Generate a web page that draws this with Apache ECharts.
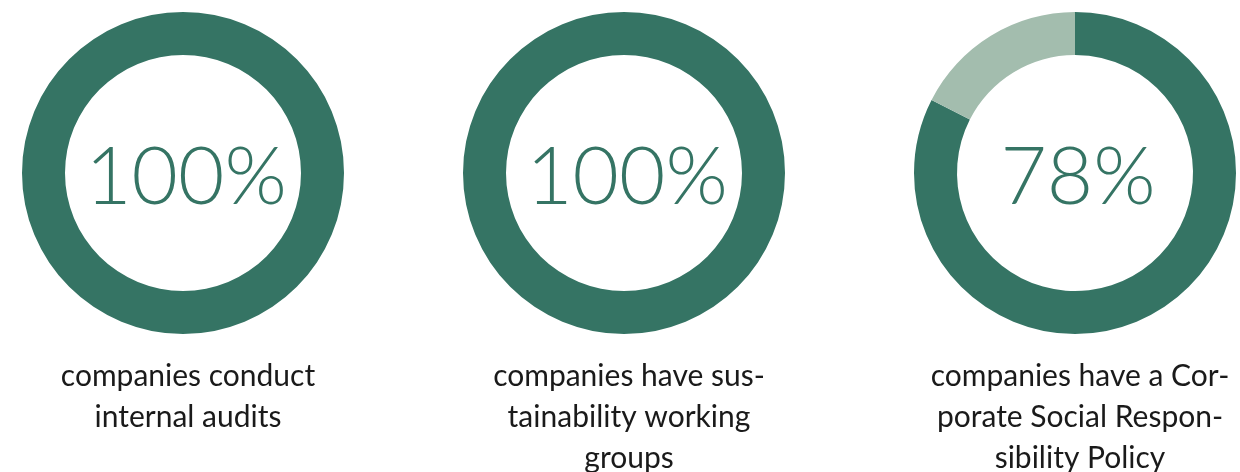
<!DOCTYPE html>
<html>
<head>
<meta charset="utf-8">
<script src="https://cdn.jsdelivr.net/npm/echarts@6/dist/echarts.min.js"></script>
<style>html,body{margin:0;padding:0;background:#fff}#c{width:1240px;height:472px}</style>
</head>
<body>
<div id="c"></div>
<script>
const percentLabels = ['100%', '100%', '78%'];
const captions = [
  'companies conduct\ninternal audits',
  'companies have sus-\ntainability working\ngroups',
  'companies have a Cor-\nporate Social Respon-\nsibility Policy'
];
const filledValues = [100, 100, 82.5];
const restValues = [0, 0, 17.5];

const centersX = [183, 624, 1075];
const DARK = '#357464';
const LIGHT = '#a3bdae';

const chart = echarts.init(document.getElementById('c'));
const series = [];
const titles = [];
for (let i = 0; i < 3; i++) {
  const data = [{ value: filledValues[i], itemStyle: { color: DARK } }];
  if (restValues[i] > 0) data.push({ value: restValues[i], itemStyle: { color: LIGHT } });
  series.push({
    type: 'pie',
    center: [centersX[i], 173],
    radius: [118, 161],
    startAngle: 90,
    clockwise: true,
    silent: true,
    animation: false,
    label: { show: false },
    labelLine: { show: false },
    itemStyle: { borderWidth: 0 },
    data
  });
  titles.push({
    text: percentLabels[i],
    left: centersX[i] - 2,
    top: 173,
    textAlign: 'center',
    textVerticalAlign: 'middle',
    textStyle: { fontFamily: 'Lato', fontWeight: 300, fontSize: 80, color: DARK }
  });
  titles.push({
    text: captions[i],
    left: centersX[i],
    top: 351,
    textAlign: 'center',
    textStyle: { fontFamily: 'Lato', fontWeight: 400, fontSize: 30, color: '#1a1a1a', lineHeight: 41 }
  });
}
chart.setOption({ animation: false, title: titles, series });
</script>
</body>
</html>
